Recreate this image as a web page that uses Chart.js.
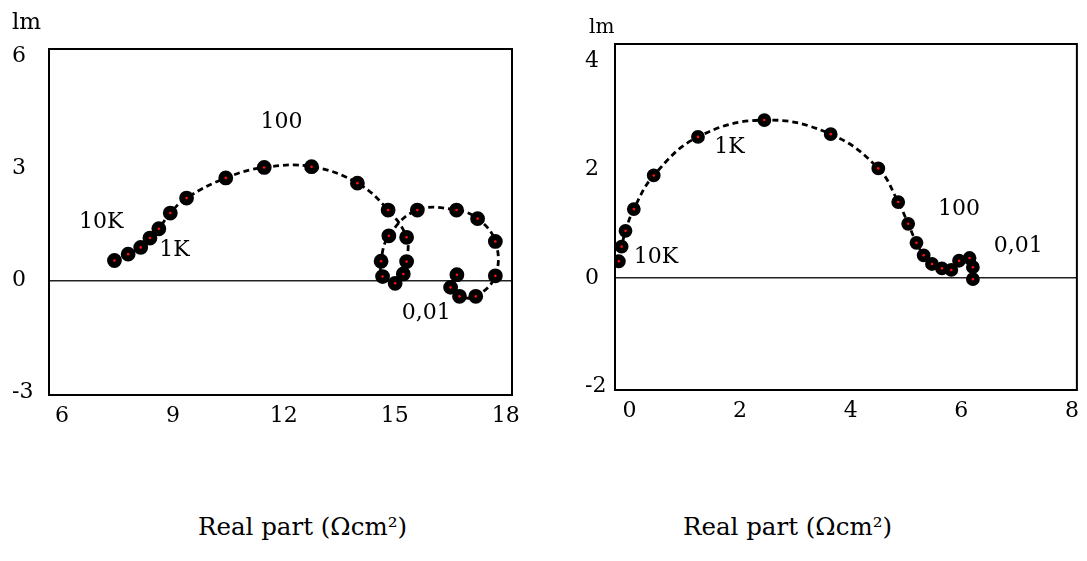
<!DOCTYPE html>
<html><head><meta charset="utf-8">
<script src="https://cdn.jsdelivr.net/npm/chart.js@4.4.1/dist/chart.umd.min.js"></script>
<style>
body{margin:0;background:#fff;width:1087px;height:561px;overflow:hidden;position:relative;font-family:'DejaVu Serif',serif;}
.box{position:absolute;}
.t{position:absolute;color:#000;white-space:nowrap;line-height:1;}
</style></head><body>
<div class="box" style="left:0;top:0;width:540px;height:440px"><canvas id="c1"></canvas></div>
<div class="box" style="left:540px;top:0;width:547px;height:440px"><canvas id="c2"></canvas></div>
<div class="t" style="left:12px;top:10px;font-size:23px">lm</div>
<div class="t" style="left:589px;top:16px;font-size:20px">lm</div>
<div class="t" style="left:198px;top:515px;font-size:24.5px">Real part (Ωcm²)</div>
<div class="t" style="left:683px;top:515px;font-size:24.5px">Real part (Ωcm²)</div>
<script>
// ---- Left chart data ----
const leftRe = [7.42, 7.79, 8.13, 8.38, 8.62, 8.93, 9.37, 10.43, 11.47, 12.75, 13.99, 14.82,
  15.32, 15.32, 15.23, 15.01, 14.67, 14.63, 14.84, 15.61, 16.67, 17.24, 17.72, 17.72, 17.19, 16.75, 16.51, 16.68];
const leftIm = [0.54, 0.71, 0.89, 1.14, 1.39, 1.81, 2.21, 2.75, 3.03, 3.05, 2.61, 1.89,
  1.16, 0.51, 0.18, -0.07, 0.11, 0.52, 1.20, 1.89, 1.89, 1.66, 1.05, 0.13, -0.42, -0.42, -0.18, 0.16];
const leftXTicks = [6, 9, 12, 15, 18];
const leftYTicks = [-3, 0, 3, 6];
const leftLabels = ['10K', '1K', '100', '0,01'];
const leftLabelRe = [7.06, 9.04, 11.94, 15.85];
const leftLabelIm = [1.55, 0.80, 4.23, -0.88];

// ---- Right chart data ----
const rightRe = [-0.19, -0.14, -0.07, 0.08, 0.44, 1.24, 2.44, 3.64, 4.50, 4.86, 5.04, 5.19, 5.32, 5.47, 5.65, 5.82, 5.96, 6.15, 6.21, 6.21];
const rightIm = [0.31, 0.58, 0.87, 1.27, 1.89, 2.60, 2.91, 2.65, 2.02, 1.40, 1.00, 0.65, 0.42, 0.26, 0.18, 0.15, 0.32, 0.37, 0.20, -0.02];
const rightXTicks = [0, 2, 4, 6, 8];
const rightYTicks = [-2, 0, 2, 4];
const rightLabels = ['1K', '10K', '100', '0,01'];
const rightLabelRe = [1.81, 0.48, 5.96, 7.03];
const rightLabelIm = [2.40, 0.39, 1.27, 0.58];

const FONT = 'DejaVu Serif';

const frame = {
  id: 'frame',
  beforeDatasetsDraw(chart) {
    const a = chart.chartArea, c = chart.ctx;
    c.save(); c.strokeStyle = '#000'; c.lineWidth = 2;
    c.strokeRect(a.left, a.top, a.right - a.left, a.bottom - a.top);
    c.restore();
  }
};
const annot = {
  id: 'annot',
  afterDatasetsDraw(chart, args, opts) {
    const c = chart.ctx, xs = chart.scales.x, ys = chart.scales.y;
    c.save(); c.fillStyle = '#000'; c.font = '22px "' + FONT + '"';
    c.textAlign = 'center'; c.textBaseline = 'middle';
    opts.text.forEach((t, i) => c.fillText(t, xs.getPixelForValue(opts.re[i]), ys.getPixelForValue(opts.im[i])));
    c.restore();
  }
};

function pts(re, im) { return re.map((v, i) => ({x: v, y: im[i]})); }

function make(id, re, im, xr, yr, xt, yt, labs, lre, lim, pad, yw, rad) {
  new Chart(document.getElementById(id), {
    type: 'scatter',
    data: { datasets: [
      { data: pts(re, im), order: 0, showLine: false, pointRadius: 1.3, pointBackgroundColor: '#ff1010', pointBorderWidth: 0, pointHoverRadius: 1.3 },
      { data: pts(re, im), order: 1, showLine: true, borderColor: '#000', borderWidth: 2.8, borderDash: [6, 4], tension: 0.4,
        pointRadius: rad, pointBackgroundColor: '#000', pointBorderColor: '#000', pointHoverRadius: rad }
    ]},
    options: {
      responsive: true, maintainAspectRatio: false, animation: false,
      layout: { padding: pad },
      plugins: { legend: { display: false }, tooltip: { enabled: false },
        annot: { text: labs, re: lre, im: lim } },
      scales: {
        x: { type: 'linear', min: xr[0], max: xr[1],
          afterBuildTicks: s => { s.ticks = xt.map(v => ({value: v})); },
          afterFit: s => { s.height = 36; },
          grid: { display: false, drawTicks: false }, border: { display: false },
          ticks: { padding: 8, color: '#000', font: { family: FONT, size: 22 }, maxRotation: 0, autoSkip: false } },
        y: { type: 'linear', min: yr[0], max: yr[1],
          afterBuildTicks: s => { s.ticks = yt.map(v => ({value: v})); },
          afterFit: s => { s.width = yw; },
          grid: { drawTicks: false, lineWidth: 1.6, color: c => (c.tick && c.tick.value === 0) ? '#222' : 'rgba(0,0,0,0)' },
          border: { display: false },
          ticks: { crossAlign: 'far', color: '#000', font: { family: FONT, size: 22 }, autoSkip: false } }
      }
    },
    plugins: [frame, annot]
  });
}

make('c1', leftRe, leftIm, [5.65, 18.17], [-3.06, 6.2], leftXTicks, leftYTicks, leftLabels, leftLabelRe, leftLabelIm,
  { left: 12, top: 49, right: 28, bottom: 9 }, 37, 6);
make('c2', rightRe, rightIm, [-0.26, 8.09], [-2.06, 4.31], rightXTicks, rightYTicks, rightLabels, rightLabelRe, rightLabelIm,
  { left: 45, top: 44, right: 9, bottom: 14 }, 30, 5.5);
</script>
</body></html>
